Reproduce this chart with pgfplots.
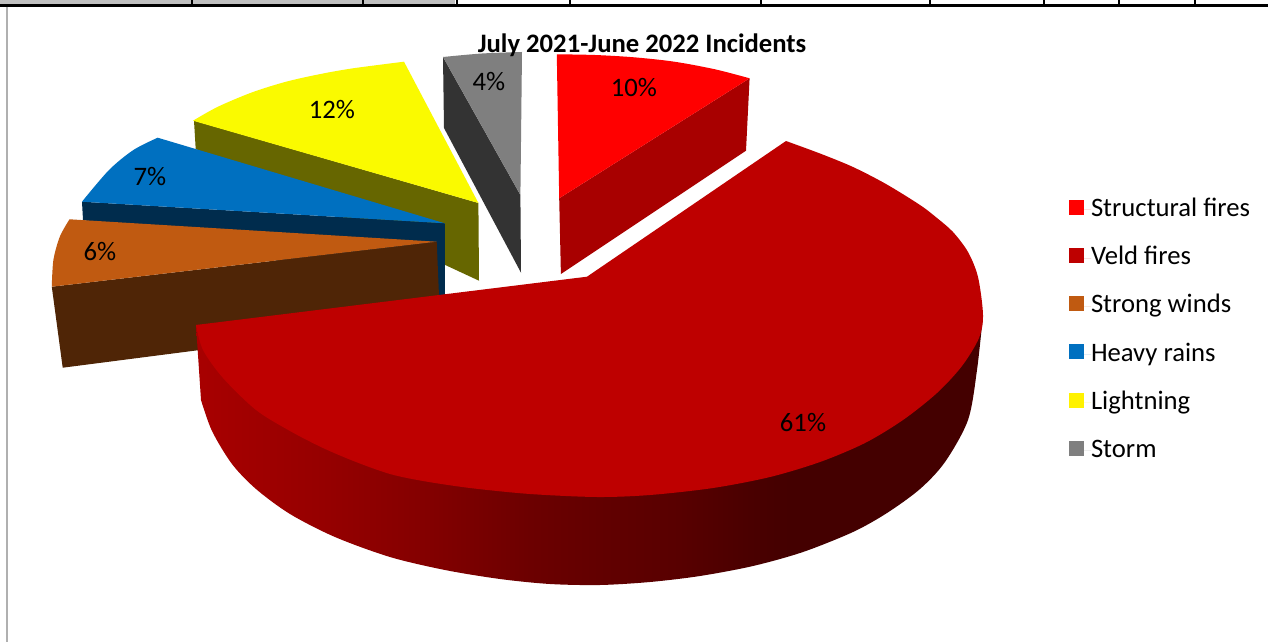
\documentclass[border=0pt]{standalone}
\usepackage{fontspec}
\setmainfont{Carlito}
\usepackage{pgfplots}
\pgfplotsset{compat=1.18}

\definecolor{rulegrey}{HTML}{C0C0C0}
\definecolor{frameline}{HTML}{B0B0B0}
\definecolor{cStruct}{HTML}{FF0000}
\definecolor{cStructSide}{HTML}{A80000}
\definecolor{cVeld}{HTML}{BE0000}
\definecolor{cWind}{HTML}{C05A11}
\definecolor{cWindSide}{HTML}{4F2506}
\definecolor{cRain}{HTML}{0070C0}
\definecolor{cRainSide}{HTML}{002C4D}
\definecolor{cLight}{HTML}{FAFA00}
\definecolor{cLightSide}{HTML}{666600}
\definecolor{cStorm}{HTML}{7F7F7F}
\definecolor{cStormSide}{HTML}{333333}

% rim of the large slice: lit on the left, falling to near black on the right
\definecolor{v0}{HTML}{A80000}
\definecolor{v2}{HTML}{960000}
\definecolor{v3}{HTML}{840000}
\definecolor{v5}{HTML}{6C0000}
\definecolor{v6}{HTML}{620000}
\definecolor{v7}{HTML}{580000}
\definecolor{v8}{HTML}{4A0000}
\definecolor{v9}{HTML}{440000}
\pgfdeclarehorizontalshading{veldrim}{100bp}{
  color(0bp)=(v0); color(25bp)=(v0); color(33bp)=(v2);
  color(39.4bp)=(v3); color(46.2bp)=(v5); color(50.6bp)=(v6);
  color(55.7bp)=(v7); color(60.2bp)=(v8); color(62.7bp)=(v9); color(100bp)=(v9)}

\pgfplotsset{
  flat/.style={forget plot,draw=none,mark=none,fill=#1},
}
\tikzset{
  txt/.style={font=\fontsize{20}{24}\selectfont,inner sep=0pt,text=black},
}

\begin{document}
\begin{tikzpicture}
\begin{axis}[
  scale only axis,
  width=951pt,height=481.5pt,
  xmin=0,xmax=1268,ymin=0,ymax=642,
  y dir=reverse,
  hide axis,
  legend cell align=left,
  legend style={
    at={(axis cs:1069,196.5)},anchor=north west,
    draw=none,fill=none,inner sep=0pt,outer sep=0pt,
    font=\fontsize{20}{24}\selectfont,
    row sep=16.15pt,
    nodes={inner sep=0pt,text height=15pt,text depth=5pt},
    /tikz/every even column/.append style={column sep=0pt},
  },
  legend image code/.code={
    \fill[#1,draw=none] (0pt,-3.75pt) rectangle (11.25pt,7.5pt);
    \path[draw=none] (0pt,0pt) -- (16.5pt,0pt);
  },
]
% page background and the table rule along the top
\addplot[flat=white] coordinates {(0,0)(1268,0)(1268,642)(0,642)} -- cycle;
\addplot[flat=rulegrey] coordinates {(0,0)(455,0)(455,5)(0,5)} -- cycle;
\addplot[forget plot,mark=none,black,line width=1.9pt] coordinates {(0,5.7)(1268,5.7)};
\addplot[forget plot,mark=none,black,line width=1.9pt] coordinates {(192,0)(192,5.7)};
\addplot[forget plot,mark=none,black,line width=1.9pt] coordinates {(363,0)(363,5.7)};
\addplot[forget plot,mark=none,black,line width=1.9pt] coordinates {(457,0)(457,5.7)};
\addplot[forget plot,mark=none,black,line width=1.9pt] coordinates {(570,0)(570,5.7)};
\addplot[forget plot,mark=none,black,line width=1.9pt] coordinates {(761,0)(761,5.7)};
\addplot[forget plot,mark=none,black,line width=1.9pt] coordinates {(930,0)(930,5.7)};
\addplot[forget plot,mark=none,black,line width=1.9pt] coordinates {(1044,0)(1044,5.7)};
\addplot[forget plot,mark=none,black,line width=1.9pt] coordinates {(1119,0)(1119,5.7)};
\addplot[forget plot,mark=none,black,line width=1.9pt] coordinates {(1195,0)(1195,5.7)};
\addplot[forget plot,mark=none,frameline,line width=1.5pt] coordinates {(7,7)(7,642)};

% Storm
\addplot[flat=cStormSide] coordinates {(443,57)(520.4,195)(521,272.7)(444,128)} -- cycle;
\addplot[flat=cStorm,smooth] coordinates {(443,57)(482,53.5)(522,52)} -- (axis cs:520.4,195) -- cycle;

% Structural fires
\addplot[flat=cStructSide] coordinates {(559.2,198.3)(749.6,78.3)(746,150.7)(560.9,274)} -- cycle;
\addplot[flat=cStruct,smooth] coordinates {(556.8,54.3)(595,55)(634,57.3)(674.4,61.7)(715,69.3)(749.6,78.3)} -- (axis cs:559.2,198.3) -- cycle;

% Lightning
\addplot[flat=cLightSide] coordinates {(194,120.7)(478.4,203)(479,280.7)(195.7,149)} -- cycle;
\addplot[flat=cLight,smooth] coordinates {(193,120.7)(218,106.7)(251.7,92.5)(285,82)(318,74.5)(351.7,68.5)(404,61.7)} -- (axis cs:478.4,203) -- cycle;

% Heavy rains
\addplot[flat=cRainSide] coordinates {(82,201.7)(444.8,223.3)(444.8,296)(83,220)} -- cycle;
\addplot[flat=cRain,smooth] coordinates {(157.7,137.7)(133.4,150)(109,170)(82,201.7)} -- (axis cs:444.8,223.3) -- cycle;

% Strong winds
\addplot[flat=cWindSide] coordinates {(51.8,286.7)(436.7,241.7)(440,319)(62.7,367.7)} -- cycle;
\addplot[flat=cWind,smooth] coordinates {(69.5,219.3)(59.8,236.7)(53.4,260)(51.8,286.7)} -- (axis cs:436.7,241.7) -- cycle;

% Veld fires: rim first, then the top face over it
\addplot[forget plot,draw=none,mark=none,shade,shading=veldrim,smooth]
  coordinates {(983,315)(977,370)(968,420)(945,462)(920,489)(887,513)(853,532)(803,552)(753,566)(700,576)(650,582)(600,585)(550,584)(500,579)(445,570)(390,557)(335,537)(290,514)(256,489)(232,464)(212,431)(201,400)}
  -- (axis cs:196,325) -- cycle;
\addplot[flat=cVeld,smooth]
  coordinates {(786,141)(820,153.5)(853,167)(886,184)(920,205)(937,218)(953,232)(968,252)(978,277)(983,315)(979,338)(962,366)(937,393)(903,420)(865,443)(820,462)(770,477)(713,488)(650,495)(597,497)(530,494)(470,488)(423,481)(390,474)(356,462)(323,448)(290,431)(256,410)(223,378)(203,350)(196,325)}
  -- (axis cs:587,276.7) -- cycle;

% slice percentages and heading
\node[txt] at (axis cs:634,88) {10\%};
\node[txt] at (axis cs:803,423) {61\%};
\node[txt] at (axis cs:100,252) {6\%};
\node[txt] at (axis cs:150,177) {7\%};
\node[txt] at (axis cs:332,110) {12\%};
\node[txt] at (axis cs:489,82) {4\%};
\node[txt,font=\fontsize{20}{24}\selectfont\bfseries] at (axis cs:642,45.5) {July 2021-June 2022 Incidents};

% key
\addlegendimage{fill=cStruct}
\addlegendentry{Structural fires}
\addlegendimage{fill=cVeld}
\addlegendentry{Veld fires}
\addlegendimage{fill=cWind}
\addlegendentry{Strong winds}
\addlegendimage{fill=cRain}
\addlegendentry{Heavy rains}
\addlegendimage{fill=yellow}
\addlegendentry{Lightning}
\addlegendimage{fill=cStorm}
\addlegendentry{Storm}
\end{axis}
\end{tikzpicture}
\end{document}
